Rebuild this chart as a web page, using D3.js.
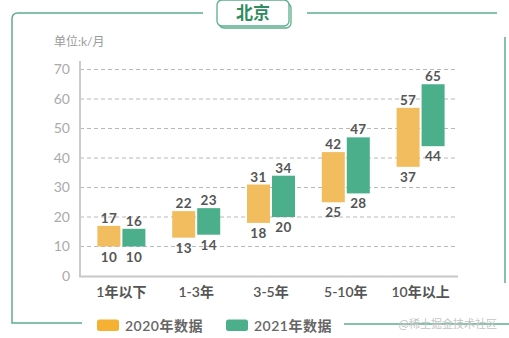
<!DOCTYPE html>
<html><head><meta charset="utf-8">
<script src="https://cdn.jsdelivr.net/npm/d3@7"></script>
<style>html,body{margin:0;padding:0;background:#fff;}svg{display:block;}</style>
</head><body>
<script>
const categories = ["1年以下", "1-3年", "3-5年", "5-10年", "10年以上"];
const low2020 = [10, 13, 18, 25, 37];
const high2020 = [17, 22, 31, 42, 57];
const low2021 = [10, 14, 20, 28, 44];
const high2021 = [16, 23, 34, 47, 65];
const yTicks = [0, 10, 20, 30, 40, 50, 60, 70];
const seriesNames = ["2020年数据", "2021年数据"];
const title = "北京";
const unitLabel = "单位:k/月";

const W = 509, H = 338;
const green = "#4BAF8B", orange = "#F2BD5E", legendOrange = "#F5B232";
const frame = "#5BAE8C";
const font = "Lato, 'Noto Sans CJK SC', sans-serif";

const svg = d3.select("body").append("svg").attr("width", W).attr("height", H);

// frame
const fr = svg.append("g").attr("fill", "none").attr("stroke", frame).attr("stroke-width", 1.5);
fr.append("path").attr("d", "M203,13 L18,13 Q12,13 12,19 L12,323 L82,323");
fr.append("path").attr("d", "M307,13 L497,13");
fr.append("path").attr("d", "M505,37 L505,283");
fr.append("path").attr("d", "M344,324 L509,324");

// title box
svg.append("rect").attr("x", 219).attr("y", 3).attr("width", 72).attr("height", 25).attr("rx", 5)
  .attr("fill", "#fff").attr("stroke", frame).attr("stroke-width", 1.3);
svg.append("rect").attr("x", 217).attr("y", 0).attr("width", 72).attr("height", 26).attr("rx", 5)
  .attr("fill", "#fff").attr("stroke", frame).attr("stroke-width", 1.3);
svg.append("text").attr("x", 253).attr("y", 19).attr("text-anchor", "middle")
  .attr("font-family", "'Noto Sans CJK SC', sans-serif").attr("font-weight", 700).attr("font-size", 17)
  .attr("fill", "#2E8C5E").text(title);

svg.append("text").attr("x", 54).attr("y", 46).attr("font-family", font).attr("font-size", 12)
  .attr("fill", "#9a9a9a").text(unitLabel);

const y = d3.scaleLinear().domain([0, 70]).range([276, 69.5]);
const x = d3.scaleBand().domain(categories).range([84, 458]).paddingInner(0).paddingOuter(0);
const plotL = 80, plotR = 458;

// grid
svg.append("g").selectAll("line").data(yTicks.filter(d => d > 0)).join("line")
  .attr("x1", plotL).attr("x2", plotR - 1).attr("y1", d => y(d)).attr("y2", d => y(d))
  .attr("stroke", "#b8b8b8").attr("stroke-dasharray", "4,3").attr("stroke-width", 1);

// y axis
const yAxis = d3.axisLeft(y).tickValues(yTicks).tickSize(0).tickPadding(10);
const ya = svg.append("g").attr("transform", `translate(${plotL},0)`).call(yAxis);
ya.select(".domain").remove();
ya.selectAll("text").attr("font-family", font).attr("font-size", 14).attr("fill", "#aaa");
svg.append("line").attr("x1", plotL).attr("x2", plotL).attr("y1", 61).attr("y2", 277)
  .attr("stroke", "#ccc").attr("stroke-width", 2);

// x axis
const xAxis = d3.axisBottom(x).tickSize(0).tickPadding(11);
const xa = svg.append("g").attr("transform", `translate(0,276)`).call(xAxis);
xa.select(".domain").remove();
xa.selectAll("text").attr("font-family", font).attr("font-size", 14).attr("font-weight", 600).attr("fill", "#555");
svg.append("line").attr("x1", plotL - 1).attr("x2", plotR).attr("y1", 276.5).attr("y2", 276.5)
  .attr("stroke", "#c8c8c8").attr("stroke-width", 2);

const bw = 23, gap = 2;
const series = [
  {lo: low2020, hi: high2020, color: orange, off: -gap / 2 - bw},
  {lo: low2021, hi: high2021, color: green, off: gap / 2}
];
series.forEach(s => {
  const g = svg.append("g");
  const data = categories.map((c, i) => ({c, lo: s.lo[i], hi: s.hi[i]}));
  g.selectAll("rect").data(data).join("rect")
    .attr("x", d => x(d.c) + x.bandwidth() / 2 + s.off).attr("width", bw)
    .attr("y", d => y(d.hi)).attr("height", d => y(d.lo) - y(d.hi)).attr("fill", s.color);
  g.selectAll("text.hi").data(data).join("text").attr("class", "hi")
    .attr("x", d => x(d.c) + x.bandwidth() / 2 + s.off + bw / 2).attr("y", d => y(d.hi) - 3)
    .attr("text-anchor", "middle").attr("font-family", font).attr("font-size", 13.5).attr("font-weight", 700)
    .attr("fill", "#555").attr("letter-spacing", 0.3).text(d => d.hi);
  g.selectAll("text.lo").data(data).join("text").attr("class", "lo")
    .attr("x", d => x(d.c) + x.bandwidth() / 2 + s.off + bw / 2).attr("y", d => y(d.lo) + 15)
    .attr("text-anchor", "middle").attr("font-family", font).attr("font-size", 13.5).attr("font-weight", 700)
    .attr("fill", "#555").attr("letter-spacing", 0.3).text(d => d.lo);
});

// legend
const legend = [{name: seriesNames[0], color: legendOrange, x: 97}, {name: seriesNames[1], color: green, x: 226}];
const lg = svg.append("g").selectAll("g").data(legend).join("g").attr("transform", d => `translate(${d.x},319.5)`);
lg.append("rect").attr("width", 22).attr("height", 11.5).attr("rx", 2.5).attr("fill", d => d.color);
lg.append("text").attr("x", 28).attr("y", 11.5).attr("font-family", font).attr("font-size", 14)
  .attr("font-weight", 600).attr("fill", "#666").attr("letter-spacing", 0.5).text(d => d.name);

svg.append("text").attr("x", 497).attr("y", 328).attr("text-anchor", "end")
  .attr("font-family", "'Noto Sans CJK SC', sans-serif").attr("font-size", 11).attr("fill", "#c4c4c4")
  .text("@稀土掘金技术社区");
</script>
</body></html>
